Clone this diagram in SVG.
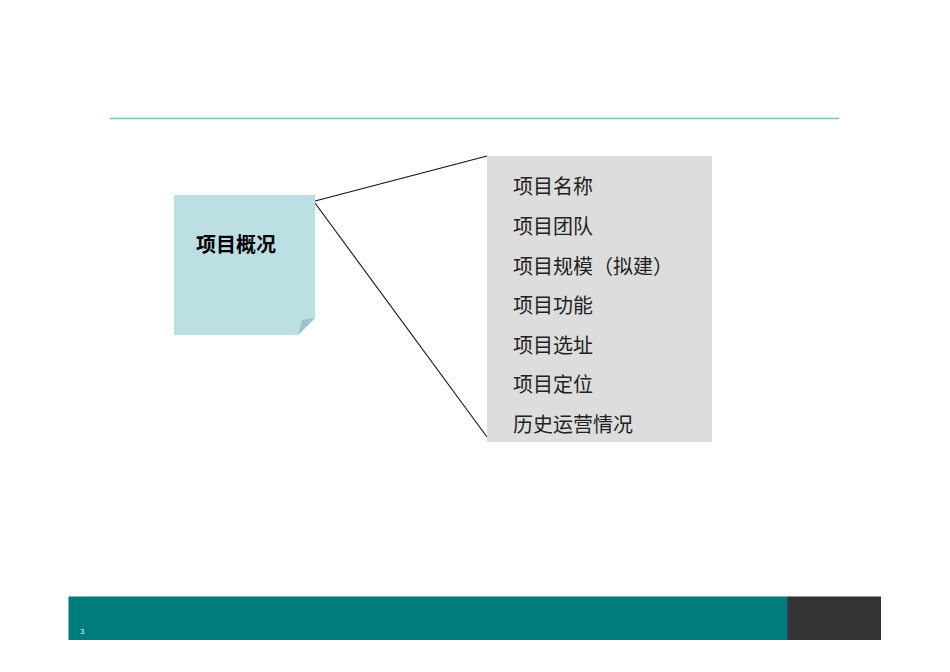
<svg xmlns="http://www.w3.org/2000/svg" width="950" height="672" viewBox="0 0 950 672">
<style>
.item{font-family:"Noto Sans CJK SC","Noto Sans CJK JP",sans-serif;font-size:20px;fill:#222;}
.title{font-family:"Noto Sans CJK SC","Noto Sans CJK JP",sans-serif;font-size:20px;font-weight:bold;fill:#000;}
</style>
<rect width="950" height="672" fill="#fff"/>
<line x1="110" y1="118.5" x2="839" y2="118.5" stroke="#7dbfc0" stroke-width="1.5"/>
<g id="connectors" stroke="#111" stroke-width="1.1" fill="none">
<line x1="315" y1="201" x2="487" y2="156"/>
<line x1="315" y1="203" x2="487" y2="437"/>
</g>
<g id="node-overview">
<path d="M174 195 H315 V318 L298 335 H174 Z" fill="#bcdfe3"/>
<path d="M315 318 L302 320 L298 335 Z" fill="#9dc2c5"/>
<text class="title" x="196" y="252">项目概况</text>
</g>
<g id="node-list">
<rect x="487" y="156" width="225" height="286" fill="#dddddd"/>
<text class="item" x="513" y="194">项目名称</text>
<text class="item" x="513" y="234">项目团队</text>
<text class="item" x="513" y="274">项目规模（拟建）</text>
<text class="item" x="513" y="313">项目功能</text>
<text class="item" x="513" y="353">项目选址</text>
<text class="item" x="513" y="392">项目定位</text>
<text class="item" x="513" y="432">历史运营情况</text>
</g>
<g id="footer">
<rect x="68.5" y="596.5" width="720" height="43.5" fill="#007c7c"/>
<rect x="787.5" y="596.5" width="93.5" height="43.5" fill="#333333"/>
<text x="80" y="634" font-family="Liberation Sans, sans-serif" font-size="8" fill="#cfe">3</text>
</g>
</svg>
